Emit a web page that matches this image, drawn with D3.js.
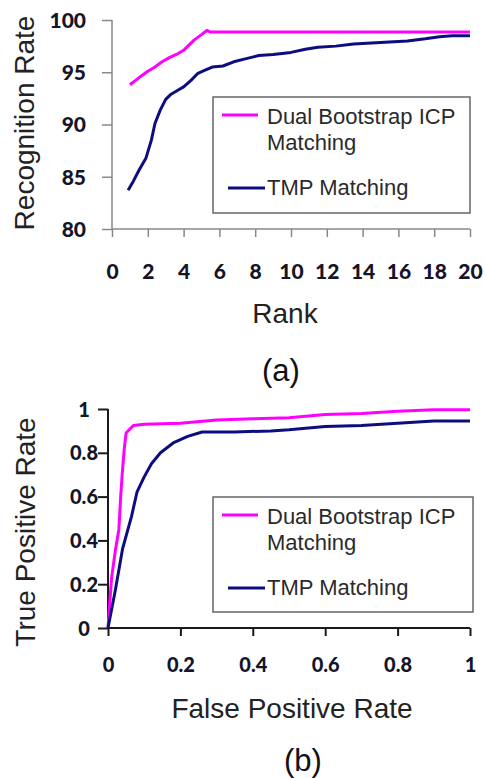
<!DOCTYPE html>
<html><head><meta charset="utf-8">
<script src="https://cdn.jsdelivr.net/npm/d3@7"></script>
<style>body{margin:0;background:#fff}svg{display:block}</style>
</head><body>
<svg id="c" width="485" height="778"></svg>
<script>
// ---- Data ----
const seriesNames = ["Dual Bootstrap ICP Matching", "TMP Matching"];
const rankTicks = [0,2,4,6,8,10,12,14,16,18,20];
const rateTicks = [80,85,90,95,100];
const rocTicks = [0,0.2,0.4,0.6,0.8,1];
const rocTickLabels = ["0","0.2","0.4","0.6","0.8","1"];

// (a) CMC: [rank, recognition rate]
const cmcDual = [[1,93.8],[1.3,94.2],[1.6,94.6],[2,95.1],[2.4,95.5],[2.8,96.0],[3.2,96.4],[3.6,96.7],[4,97.1],[4.3,97.6],[4.6,98.1],[5,98.6],[5.3,99.0],[5.5,98.85],[20,98.85]];
const cmcTmp = [[0.9,83.7],[1.2,84.6],[1.5,85.6],[1.9,86.8],[2.2,88.5],[2.4,90.1],[2.7,91.4],[3,92.4],[3.3,92.9],[3.7,93.3],[4,93.6],[4.4,94.2],[4.8,94.9],[5.2,95.2],[5.6,95.5],[6.2,95.6],[6.8,96.0],[7.5,96.3],[8.2,96.6],[9,96.7],[10,96.9],[10.8,97.2],[11.5,97.4],[12.5,97.5],[13.5,97.7],[14.5,97.8],[15.5,97.9],[16.5,98.0],[17.5,98.2],[18.3,98.4],[19,98.5],[20,98.5]];

// (b) ROC: [false positive rate, true positive rate]
const rocDual = [[0,0],[0.005,0.12],[0.01,0.23],[0.02,0.35],[0.03,0.45],[0.035,0.6],[0.04,0.72],[0.045,0.82],[0.05,0.89],[0.07,0.925],[0.1,0.93],[0.2,0.935],[0.3,0.95],[0.4,0.955],[0.5,0.96],[0.6,0.975],[0.7,0.98],[0.8,0.99],[0.9,0.997],[1,0.997]];
const rocTmp = [[0,0],[0.02,0.17],[0.04,0.36],[0.065,0.51],[0.08,0.62],[0.1,0.69],[0.12,0.75],[0.145,0.8],[0.18,0.845],[0.22,0.875],[0.26,0.895],[0.35,0.895],[0.45,0.9],[0.5,0.905],[0.6,0.92],[0.7,0.925],[0.8,0.935],[0.9,0.945],[1,0.945]];

const colors = ["#ff00ff", "#0d0d80"];
const svg = d3.select("#c");
const titleFont = "'Liberation Sans', Arial, sans-serif";
const tickFont = "Lato, 'Open Sans', sans-serif";

function panel(opt) {
  const x = d3.scaleLinear().domain(opt.xDom).range(opt.xR);
  const y = d3.scaleLinear().domain(opt.yDom).range(opt.yR);
  const g = svg.append("g");
  // axes
  const xa = g.append("g").attr("transform", `translate(0,${opt.yR[0]})`)
    .call(d3.axisBottom(x).tickValues(opt.xTicks).tickSize(8).tickFormat(opt.xFmt));
  const ya = g.append("g").attr("transform", `translate(${opt.xR[0]},0)`)
    .call(d3.axisLeft(y).tickValues(opt.yTicks).tickSize(10).tickFormat(opt.yFmt));
  [xa, ya].forEach(a => {
    a.select(".domain").attr("stroke", opt.axisColor).attr("stroke-width", opt.axisW);
    a.selectAll(".tick line").attr("stroke", opt.axisColor).attr("stroke-width", opt.axisW);
    a.selectAll("text").attr("fill", "#15152a").attr("font-family", tickFont)
      .attr("font-weight", "900").attr("font-size", opt.tickSize);
  });
  xa.selectAll(".domain").attr("d", `M${opt.xR[0]},0H${opt.xR[1]}`);
  ya.selectAll(".domain").attr("d", `M0,${opt.yR[0]}V${opt.yR[1]}`);
  xa.selectAll(".tick text").attr("y", opt.xLabDy).attr("dy", "0.35em");
  ya.selectAll(".tick text").attr("x", opt.yLabX - opt.xR[0]).attr("text-anchor", opt.yAnchor).attr("dy", "0.35em");
  // lines
  const line = d3.line().x(d => x(d[0])).y(d => y(d[1]));
  opt.series.forEach((s, i) => {
    g.append("path").datum(s).attr("d", line).attr("fill", "none")
      .attr("stroke", colors[i]).attr("stroke-width", 3).attr("stroke-linejoin", "round");
  });
  // titles
  g.append("text").attr("x", opt.xTitle[0]).attr("y", opt.xTitle[1]).attr("text-anchor", "middle")
    .attr("dy", "0.35em").attr("font-family", titleFont).attr("font-size", 28).attr("fill", "#222").text(opt.xLabel);
  g.append("text").attr("transform", `translate(${opt.yTitle[0]},${opt.yTitle[1]}) rotate(-90)`)
    .attr("text-anchor", "middle").attr("dy", "0.35em").attr("font-family", titleFont)
    .attr("font-size", 28).attr("fill", "#222").text(opt.yLabel);
  g.append("text").attr("x", opt.cap[0]).attr("y", opt.cap[1]).attr("text-anchor", "middle")
    .attr("dy", "0.35em").attr("font-family", titleFont).attr("font-size", 31).attr("fill", "#111").text(opt.capText);
  // legend
  const L = opt.legend;
  g.append("rect").attr("x", L.x).attr("y", L.y).attr("width", L.w).attr("height", L.h)
    .attr("fill", "#fff").attr("stroke", "#666").attr("stroke-width", 1.5);
  const lt = (t, xx, yy) => g.append("text").attr("x", xx).attr("y", yy).attr("font-family", titleFont)
    .attr("font-size", 22).attr("fill", "#2a2a2a").text(t);
  g.append("line").attr("x1", L.x + 9).attr("x2", L.x + 45).attr("y1", L.y + 18).attr("y2", L.y + 18)
    .attr("stroke", colors[0]).attr("stroke-width", 3);
  lt("Dual Bootstrap ICP", L.x + 54, L.y + 27);
  lt("Matching", L.x + 54, L.y + 53);
  g.append("line").attr("x1", L.x + 15).attr("x2", L.x + 52).attr("y1", L.y + 91).attr("y2", L.y + 91)
    .attr("stroke", colors[1]).attr("stroke-width", 3);
  lt("TMP Matching", L.x + 54, L.y + 98);
}

panel({
  xDom: [0, 20], xR: [112, 470], yDom: [80, 100], yR: [229, 20],
  xTicks: rankTicks, yTicks: rateTicks, xFmt: d3.format("d"), yFmt: d3.format("d"),
  axisColor: "#888", axisW: 1.5, tickSize: 21, xLabDy: 43, yLabX: 86, yAnchor: "end",
  series: [cmcDual, cmcTmp],
  xLabel: "Rank", xTitle: [285, 313], yLabel: "Recognition Rate", yTitle: [24, 123],
  capText: "(a)", cap: [281, 370],
  legend: {x: 213, y: 97, w: 257, h: 116}
});

panel({
  xDom: [0, 1], xR: [108, 470], yDom: [0, 1], yR: [628, 409],
  xTicks: rocTicks, yTicks: rocTicks, xFmt: (d, i) => rocTickLabels[i], yFmt: (d, i) => rocTickLabels[i],
  axisColor: "#1a1a1a", axisW: 2, tickSize: 20, xLabDy: 37, yLabX: 84, yAnchor: "middle",
  series: [rocDual, rocTmp],
  xLabel: "False Positive Rate", xTitle: [292, 708], yLabel: "True Positive Rate", yTitle: [25, 532],
  capText: "(b)", cap: [303, 760],
  legend: {x: 213, y: 497, w: 260, h: 115}
});
</script>
</body></html>
